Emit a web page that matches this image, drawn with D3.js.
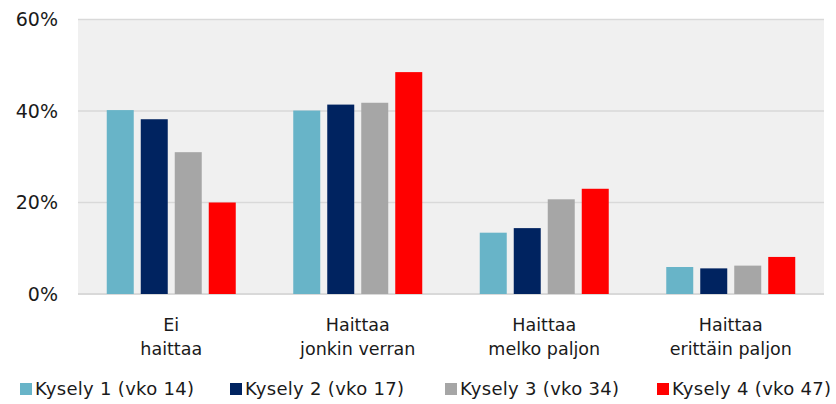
<!DOCTYPE html>
<html>
<head>
<meta charset="utf-8">
<script src="https://cdn.jsdelivr.net/npm/d3@7"></script>
<style>
  body { margin: 0; background: #fff; }
  text { font-family: "DejaVu Sans", sans-serif; fill: #1a1a1a; }
</style>
</head>
<body>
<div id="chart"></div>
<script>
const categories = [["Ei", "haittaa"], ["Haittaa", "jonkin verran"], ["Haittaa", "melko paljon"], ["Haittaa", "erittäin paljon"]];
const seriesNames = ["Kysely 1 (vko 14)", "Kysely 2 (vko 17)", "Kysely 3 (vko 34)", "Kysely 4 (vko 47)"];
const seriesColors = ["#68b4c8", "#002360", "#a6a6a6", "#ff0000"];
const kysely1 = [40.2, 40.1, 13.4, 5.9];
const kysely2 = [38.2, 41.4, 14.4, 5.6];
const kysely3 = [31.0, 41.8, 20.7, 6.2];
const kysely4 = [20.0, 48.5, 23.0, 8.1];
const yTicks = [0, 20, 40, 60];

const allSeries = [kysely1, kysely2, kysely3, kysely4];

const width = 836, height = 404;
const margin = { top: 19.5, left: 78, right: 12, bottom: 110 };

const svg = d3.select("#chart").append("svg").attr("width", width).attr("height", height);

const groupW = 129;
const x0 = d3.scaleBand().domain(d3.range(categories.length)).range([margin.left, width - margin.right]);
const x1 = d3.scaleBand().domain(d3.range(seriesNames.length)).range([0, groupW]).paddingInner(0.206);
const y = d3.scaleLinear().domain([0, 60]).range([294, margin.top]);

// plot background
svg.append("rect")
  .attr("x", margin.left).attr("y", y(60))
  .attr("width", width - margin.right - margin.left).attr("height", y(0) - y(60))
  .attr("fill", "#f0f0f0");

// grid
svg.append("g").selectAll("line").data(yTicks).enter().append("line")
  .attr("x1", margin.left).attr("x2", width - margin.right)
  .attr("y1", d => y(d)).attr("y2", d => y(d))
  .attr("stroke", "#d9d9d9").attr("stroke-width", d => d == 0 ? 2 : 1.5);

// y labels
svg.append("g").selectAll("text").data(yTicks).enter().append("text")
  .attr("x", 58).attr("y", d => y(d)).attr("dy", "0.35em")
  .attr("text-anchor", "end").style("font-size", "19px")
  .text(d => d + "%");

// bars
const groups = svg.append("g").selectAll("g").data(categories).enter().append("g")
  .attr("transform", (d, i) => `translate(${x0(i) + x0.bandwidth() / 2 - groupW / 2},0)`);

groups.selectAll("rect")
  .data((d, i) => allSeries.map((s, j) => ({ s: j, v: s[i] })))
  .enter().append("rect")
  .attr("x", d => x1(d.s)).attr("width", x1.bandwidth())
  .attr("y", d => y(d.v)).attr("height", d => y(0) - y(d.v))
  .attr("fill", d => seriesColors[d.s]);

// category labels
categories.forEach(function (lines, i) {
  const t = svg.append("text").attr("text-anchor", "middle")
    .style("font-size", "17.5px");
  lines.forEach(function (l, k) {
    t.append("tspan").attr("x", x0(i) + x0.bandwidth() / 2).attr("y", 331 + k * 24).text(l);
  });
});

// legend
const legX = [20, 230, 445, 657];
const leg = svg.append("g").selectAll("g").data(seriesNames).enter().append("g")
  .attr("transform", (d, i) => `translate(${legX[i]},389)`);
leg.append("rect").attr("x", 0).attr("y", -6).attr("width", 12).attr("height", 12)
  .attr("fill", (d, i) => seriesColors[i]);
leg.append("text").attr("x", 15).attr("dy", "0.35em")
  .style("font-size", "18px").style("letter-spacing", "0.3px").text(d => d);
</script>
</body>
</html>
